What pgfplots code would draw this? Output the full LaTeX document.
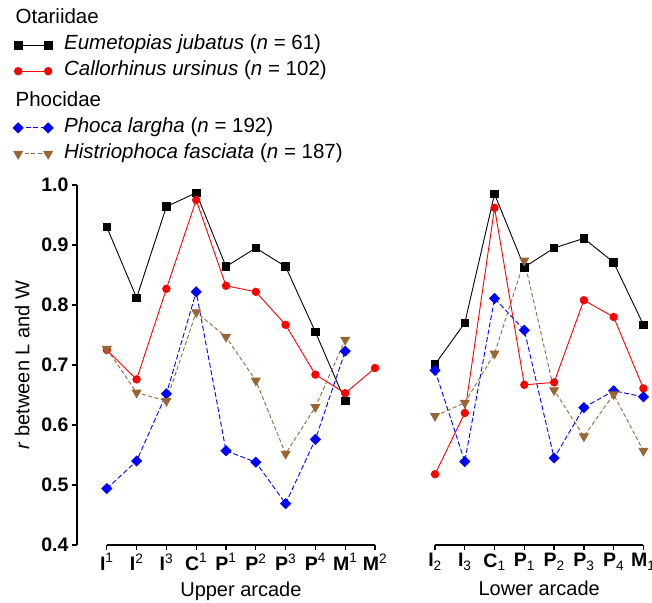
\documentclass[border=0pt]{standalone}
\usepackage{fontspec}
\setmainfont{Liberation Sans}
\usepackage{pgfplots}
\pgfplotsset{compat=1.18}

\definecolor{sealbrown}{RGB}{153,102,51}

\newcommand\up[2]{\textbf{#1}\textsuperscript{\mdseries #2}}
\newcommand\dn[2]{\textbf{#1}\textsubscript{\mdseries #2}}

\pgfplotsset{
  arcade/.style={
    scale only axis, height=360pt,
    ymin=0.4, ymax=1.0,
    clip=false,
    font=\fontsize{20}{24}\selectfont,
    ticklabel style={font=\fontsize{19.5}{23}\selectfont\bfseries},
    axis line style={line width=1.3pt},
    tick style={black, line width=1.3pt},
    tick align=outside, major tick length=5pt,
    every axis plot/.append style={line width=0.9pt},
    xlabel style={yshift=-4pt},
    legend image code/.code={
      \draw[mark repeat=1, mark phase=1, #1] plot coordinates {(0pt,0pt) (30pt,0pt)};
    },
  },
  ejub/.style={black, mark=square*, mark size=3.8pt},
  curs/.style={red, mark=*, mark size=3.7pt},
  plar/.style={blue, dash pattern=on 5pt off 2.5pt, mark=square*, mark size=3.5pt,
    mark options={solid, rotate=45}},
  hfas/.style={sealbrown, dash pattern=on 4pt off 2.5pt, mark=triangle*, mark size=5pt,
    mark options={solid, rotate=180}},
}

\begin{document}
\begin{tikzpicture}
\useasboundingbox (-77pt,-57pt) rectangle (575pt,545pt);

% upper arcade
\begin{axis}[
  arcade,
  width=298pt,
  xmin=0, xmax=10,
  axis x line*=bottom, axis y line*=left,
  x axis line style={draw=none},
  xtick={1,...,10},
  xticklabels={\up{I}{1},\up{I}{2},\up{I}{3},\up{C}{1},\up{P}{1},\up{P}{2},\up{P}{3},\up{P}{4},\up{M}{1},\up{M}{2}},
  ytick={0.4,0.5,0.6,0.7,0.8,0.9,1.0},
  yticklabel style={/pgf/number format/.cd, fixed, fixed zerofill, precision=1, assume math mode=true},
  xlabel={Upper arcade},
  xlabel style={at={(ticklabel cs:0.55)}},
  ylabel={\textit{r} between L and W},
  ylabel style={yshift=5pt},
  legend style={at={(-0.2248,1.4924)}, anchor=north west, draw=none, fill=none,
    font=\fontsize{20.5}{24}\selectfont, row sep=7.5pt, column sep=11pt,
    nodes={inner sep=0pt, text height=14pt, text depth=4.5pt}},
  legend cell align=left,
]
\addlegendimage{legend image code/.code={\node[overlay, anchor=west, inner sep=0pt] at (-3pt,0pt) {Otariidae};}}
\addlegendentry{}

\addplot[ejub] coordinates {(1,0.930)(2,0.812)(3,0.964)(4,0.987)(5,0.864)(6,0.895)(7,0.864)(8,0.755)(9,0.640)};
\addlegendentry{\textit{Eumetopias jubatus} (\textit{n} = 61)}
\addplot[curs] coordinates {(1,0.725)(2,0.676)(3,0.827)(4,0.975)(5,0.832)(6,0.822)(7,0.767)(8,0.684)(9,0.653)(10,0.695)};
\addlegendentry{\textit{Callorhinus ursinus} (\textit{n} = 102)}

\addlegendimage{legend image code/.code={\path (0pt,13.5pt); \node[overlay, anchor=west, inner sep=0pt] at (-3pt,0pt) {Phocidae};}}
\addlegendentry{}

\addplot[plar] coordinates {(1,0.494)(2,0.540)(3,0.652)(4,0.822)(5,0.557)(6,0.538)(7,0.469)(8,0.576)(9,0.723)};
\addlegendentry{\textit{Phoca largha} (\textit{n} = 192)}
\addplot[hfas] coordinates {(1,0.727)(2,0.654)(3,0.640)(4,0.788)(5,0.747)(6,0.674)(7,0.552)(8,0.630)(9,0.742)};
\addlegendentry{\textit{Histriophoca fasciata} (\textit{n} = 187)}

\draw[line width=1.3pt] (axis cs:1,0.4) -- (axis cs:10,0.4);
\end{axis}

% lower arcade
\begin{axis}[
  arcade,
  at={(358pt,0pt)}, anchor=south west,
  width=208.4pt,
  xmin=1, xmax=8,
  axis x line*=bottom, axis y line=none,
  ytick=\empty,
  xtick={1,...,8},
  xticklabels={\dn{I}{2},\dn{I}{3},\dn{C}{1},\dn{P}{1},\dn{P}{2},\dn{P}{3},\dn{P}{4},\dn{M}{1}},
  xlabel={Lower arcade},
]
\addplot[ejub] coordinates {(1,0.701)(2,0.770)(3,0.985)(4,0.863)(5,0.895)(6,0.911)(7,0.871)(8,0.767)};
\addplot[curs] coordinates {(1,0.518)(2,0.620)(3,0.962)(4,0.667)(5,0.671)(6,0.808)(7,0.780)(8,0.661)};
\addplot[plar] coordinates {(1,0.691)(2,0.539)(3,0.811)(4,0.758)(5,0.545)(6,0.629)(7,0.657)(8,0.647)};
\addplot[hfas] coordinates {(1,0.615)(2,0.637)(3,0.719)(4,0.874)(5,0.658)(6,0.581)(7,0.651)(8,0.557)};
\end{axis}
\end{tikzpicture}
\end{document}
